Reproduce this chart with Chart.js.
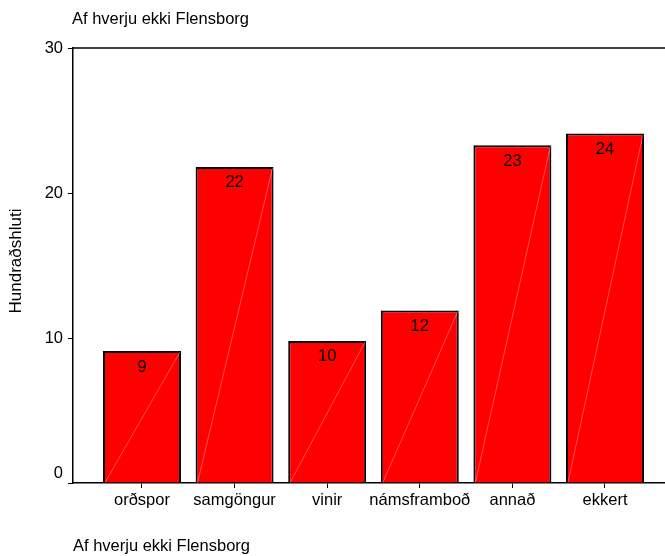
<!DOCTYPE html>
<html>
<head>
<meta charset="utf-8">
<script src="https://cdn.jsdelivr.net/npm/chart.js@4.4.1/dist/chart.umd.min.js"></script>
<style>
  html, body { margin: 0; padding: 0; background: #fff; }
</style>
</head>
<body>
<canvas id="chart" width="665" height="556"></canvas>
<script>
// data
var categories = ['orðspor', 'samgöngur', 'vinir', 'námsframboð', 'annað', 'ekkert'];
var percent = [9.1, 21.8, 9.8, 11.9, 23.3, 24.1];
var yTicks = [0, 10, 20, 30];
var chartTitle = 'Af hverju ekki Flensborg';
var xTitle = 'Af hverju ekki Flensborg';
var yTitle = 'Hundraðshluti';

var FONT = '"Liberation Sans", Arial, sans-serif';
var FSIZE = 16.5;

// extra drawing: top frame line, faint bar diagonals, value labels, titles
var decorations = {
    id: 'decorations',
    afterDatasetsDraw: function(chart) {
        var ctx = chart.ctx;
        var area = chart.chartArea;
        var meta = chart.getDatasetMeta(0);

        ctx.save();
        meta.data.forEach(function(bar, i) {
            var left = bar.x - bar.width / 2;
            var right = bar.x + bar.width / 2;
            ctx.strokeStyle = 'rgba(255,190,190,0.7)';
            ctx.lineWidth = 0.6;
            ctx.beginPath();
            ctx.moveTo(left + 2, bar.base);
            ctx.lineTo(right - 1, bar.y + 1);
            ctx.stroke();

            ctx.fillStyle = '#000';
            ctx.font = FSIZE + 'px ' + FONT;
            ctx.textAlign = 'center';
            ctx.textBaseline = 'middle';
            ctx.fillText(Math.round(percent[i]), bar.x, bar.y + 16);
        });

        ctx.strokeStyle = '#000';
        ctx.lineWidth = 1.5;
        ctx.beginPath();
        ctx.moveTo(area.left, area.top);
        ctx.lineTo(area.right, area.top);
        ctx.stroke();

        ctx.fillStyle = '#000';
        ctx.font = FSIZE + 'px ' + FONT;
        ctx.textAlign = 'left';
        ctx.textBaseline = 'middle';
        ctx.fillText(chartTitle, 72, 19);
        ctx.fillText(xTitle, 73, 546);

        ctx.translate(16, 261);
        ctx.rotate(-Math.PI / 2);
        ctx.textAlign = 'center';
        ctx.font = '17px ' + FONT;
        ctx.fillText(yTitle, 0, 0);
        ctx.restore();
    }
};

var ctx = document.getElementById('chart');
var myChart = new Chart(ctx, {
    type: 'bar',
    data: {
        datasets: [{
            data: categories.map(function(c, i) { return { x: i, y: percent[i] }; }),
            backgroundColor: '#ff0000',
            borderColor: '#000000',
            borderWidth: 2,
            borderSkipped: 'bottom',
            categoryPercentage: 1,
            barPercentage: 0.842
        }]
    },
    options: {
        responsive: false,
        animation: false,
        devicePixelRatio: 1,
        layout: { padding: { top: 48, left: 0, right: 0, bottom: 0 } },
        plugins: {
            legend: { display: false },
            title: { display: false },
            tooltip: { enabled: false }
        },
        scales: {
            x: {
                type: 'linear',
                min: -0.745,
                max: 5.648,
                offset: false,
                afterBuildTicks: function(scale) {
                    scale.ticks = categories.map(function(c, i) { return { value: i }; });
                },
                afterFit: function(scale) { scale.height = 73; },
                grid: { offset: false, drawOnChartArea: false, tickLength: 5, color: '#000', lineWidth: 1 },
                border: { color: '#000', width: 1.5 },
                ticks: {
                    autoSkip: false,
                    maxRotation: 0,
                    padding: 3,
                    color: '#000',
                    font: { family: FONT, size: FSIZE },
                    callback: function(v) { return categories[v]; }
                }
            },
            y: {
                min: 0,
                max: 30,
                afterBuildTicks: function(scale) {
                    scale.ticks = yTicks.map(function(v) { return { value: v }; });
                },
                afterFit: function(scale) { scale.width = 73; },
                grid: { drawOnChartArea: false, tickLength: 5, color: '#000', lineWidth: 1 },
                border: { color: '#000', width: 1.5 },
                ticks: {
                    padding: 5,
                    color: '#000',
                    font: { family: FONT, size: FSIZE },
                    // the 0 label sits a little above the axis in the reference
                    callback: function(v) { return v === 0 ? ['0', ''] : String(v); }
                }
            }
        }
    },
    plugins: [decorations]
});
</script>
</body>
</html>
